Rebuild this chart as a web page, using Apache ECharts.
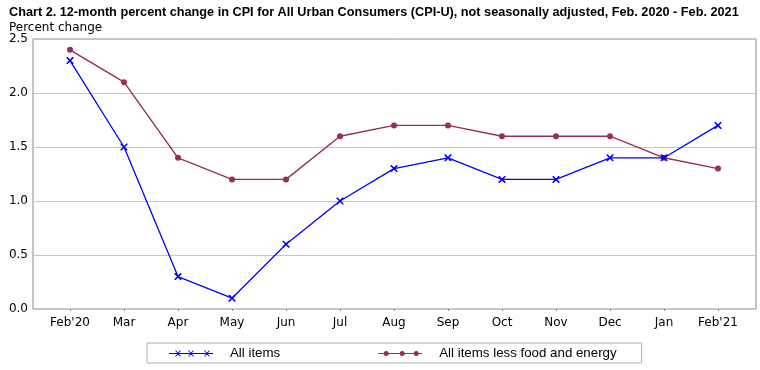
<!DOCTYPE html>
<html><head><meta charset="utf-8">
<script src="https://cdn.jsdelivr.net/npm/echarts@6/dist/echarts.min.js"></script>
<style>html,body{margin:0;padding:0;background:#fff}#c{width:760px;height:370px}</style>
</head><body><div id="c"></div>
<script>
const categories = ["Feb'20","Mar","Apr","May","Jun","Jul","Aug","Sep","Oct","Nov","Dec","Jan","Feb'21"];
const allItems = [2.3, 1.5, 0.3, 0.1, 0.6, 1.0, 1.3, 1.4, 1.2, 1.2, 1.4, 1.4, 1.7];
const coreItems = [2.4, 2.1, 1.4, 1.2, 1.2, 1.6, 1.7, 1.7, 1.6, 1.6, 1.6, 1.4, 1.3];
const seriesNames = ["All items", "All items less food and energy"];
const yTicks = [0, 0.5, 1.0, 1.5, 2.0, 2.5];

const BLUE = '#0000ff', MAROON = '#962d5f';
const xSym = 'path://M0 0 L1.6 0 L10 8.4 L10 10 L8.4 10 L0 1.6 Z M10 0 L10 1.6 L1.6 10 L0 10 L0 8.4 L8.4 0 Z';
function xAt(c){return `M${c-3} 1 L${c-1.9} 1 L${c+3} 7 L${c+1.9} 7 Z M${c+3} 1 L${c+1.9} 1 L${c-3} 7 L${c-1.9} 7 Z `;}
function dotAt(c){const r=2.6;let s='M'+(c+r)+' 4 ';for(let i=1;i<12;i++){const a=i*Math.PI/6;s+='L'+(c+r*Math.cos(a)).toFixed(2)+' '+(4+r*Math.sin(a)).toFixed(2)+' ';}return s+'Z ';}
const iconAll = 'path://M0 3.4 L44 3.4 L44 4.6 L0 4.6 Z ' + xAt(9) + xAt(22) + xAt(38);
const iconCore = 'path://M0 3.4 L44 3.4 L44 4.6 L0 4.6 Z ' + dotAt(8) + dotAt(24) + dotAt(38);

const chart = echarts.init(document.getElementById('c'), null, {renderer:'canvas'});
const lab = {fontFamily:'DejaVu Sans', fontSize:12, color:'#000'};
chart.setOption({
  animation:false,
  title:[
    {text:'Chart 2. 12-month percent change in CPI for All Urban Consumers (CPI-U), not seasonally adjusted, Feb. 2020 - Feb. 2021',
     left:4, top:1, textStyle:{fontFamily:'Liberation Sans', fontWeight:'bold', fontSize:12.7, color:'#000'}},
    {text:'Percent change', left:4, top:17, textStyle:{fontFamily:'DejaVu Sans', fontWeight:'normal', fontSize:12, color:'#000'}}
  ],
  legend:{
    left:147, top:343, orient:'horizontal',
    padding:[4,25,3,22], borderColor:'#b0b0b0', borderWidth:1,
    itemWidth:44, itemHeight:6, itemGap:98,
    textStyle:{fontFamily:'Liberation Sans', fontSize:13.3, color:'#000', padding:[0,0,0,12]},
    data:[{name:seriesNames[0], icon:iconAll},{name:seriesNames[1], icon:iconCore}]
  },
  grid:[
    {left:70, right:42, top:39, bottom:61, show:false},
    {left:33, right:4, top:39, bottom:61, show:true, borderColor:'#8a8a8a', borderWidth:1, backgroundColor:'transparent'}
  ],
  xAxis:[
    {type:'category', gridIndex:0, data:categories, boundaryGap:false,
     axisLine:{show:false}, axisTick:{show:true, inside:false, length:2, lineStyle:{color:'#8a8a8a'}},
     axisLabel:Object.assign({margin:8, interval:0}, lab), splitLine:{show:false}},
    {type:'category', gridIndex:1, data:categories, show:false}
  ],
  yAxis:[
    {type:'value', gridIndex:0, min:0, max:2.5, interval:0.5, show:false, splitLine:{show:false}},
    {type:'value', gridIndex:1, min:0, max:2.5, interval:0.5,
     axisLine:{show:false}, axisTick:{show:false},
     axisLabel:Object.assign({margin:5, formatter:v=>v.toFixed(1)}, lab),
     splitLine:{show:true, lineStyle:{color:'#c4c4c4', width:1}}}
  ],
  series:[
    {name:seriesNames[0], type:'line', xAxisIndex:0, yAxisIndex:0, data:allItems,
     symbol:xSym, symbolSize:7, showAllSymbol:true,
     lineStyle:{color:BLUE, width:1.3}, itemStyle:{color:BLUE}, z:3},
    {name:seriesNames[1], type:'line', xAxisIndex:0, yAxisIndex:0, data:coreItems,
     symbol:'circle', symbolSize:6, showAllSymbol:true,
     lineStyle:{color:MAROON, width:1.4}, itemStyle:{color:MAROON, borderWidth:0}, z:2}
  ]
});
</script></body></html>
